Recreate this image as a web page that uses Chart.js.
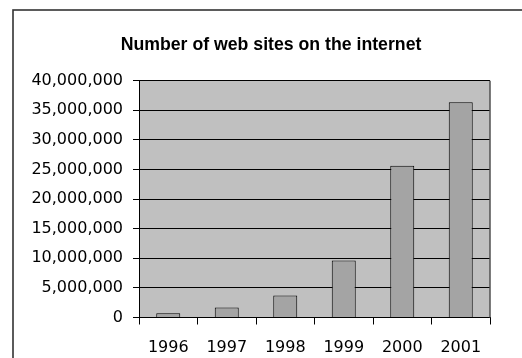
<!DOCTYPE html>
<html>
<head>
<meta charset="utf-8">
<script src="https://cdn.jsdelivr.net/npm/chart.js@4.4.1/dist/chart.umd.min.js"></script>
<style>
html,body{margin:0;padding:0;background:#fff;}
#wrap{position:relative;width:522px;height:358px;}
</style>
</head>
<body>
<div id="wrap"><canvas id="c" width="522" height="358"></canvas></div>
<script>
const years = ["1996","1997","1998","1999","2000","2001"];
const sites = [700000, 1700000, 3700000, 9650000, 25650000, 36350000];
const yMax = 40000000;
const yStep = 5000000;
const chartTitle = "Number of web sites on the internet";

const bgPlugin = {
  id: 'bg',
  afterLayout(chart) {
    // centre the title over the framed chart region (as in the reference)
    if (chart.titleBlock) {
      chart.titleBlock.left = 52;
      chart.titleBlock.right = 490;
    }
  },
  beforeDraw(chart) {
    const {ctx, chartArea: a} = chart;
    ctx.save();
    ctx.fillStyle = '#fff';
    ctx.fillRect(0, 0, chart.width, chart.height);
    ctx.strokeStyle = '#333';
    ctx.lineWidth = 1.6;
    ctx.strokeRect(13, 10, 700, 500);
    ctx.fillStyle = '#c0c0c0';
    ctx.fillRect(a.left, a.top, a.right - a.left, a.bottom - a.top);
    ctx.restore();
  },
  afterDraw(chart) {
    const {ctx, chartArea: a} = chart;
    ctx.save();
    ctx.strokeStyle = '#505050';
    ctx.lineWidth = 1.5;
    ctx.beginPath();
    ctx.moveTo(Math.round(a.right), a.top);
    ctx.lineTo(Math.round(a.right), a.bottom);
    ctx.stroke();
    ctx.restore();
  }
};

new Chart(document.getElementById('c'), {
  type: 'bar',
  data: {
    labels: years,
    datasets: [{
      data: sites,
      backgroundColor: '#a4a4a4',
      borderColor: '#000',
      borderWidth: 1,
      barPercentage: 0.41,
      categoryPercentage: 1
    }]
  },
  options: {
    responsive: false,
    animation: false,
    devicePixelRatio: 1,
    layout: { padding: { left: 0, right: 32, top: 0, bottom: 0 } },
    plugins: {
      legend: { display: false },
      tooltip: { enabled: false },
      title: {
        display: true,
        text: chartTitle,
        color: '#000',
        font: { family: 'Liberation Sans, Arial, sans-serif', size: 17.7, weight: 'bold' },
        padding: { top: 34.4, bottom: 25.1 }
      }
    },
    scales: {
      x: {
        offset: true,
        grid: { offset: true, drawOnChartArea: false, color: '#000', tickLength: 7, tickColor: '#000' },
        border: { color: '#000', width: 1 },
        ticks: { color: '#000', padding: 14, font: { family: 'DejaVu Sans, sans-serif', size: 16 } },
        afterFit(s) { s.height = 40.5; }
      },
      y: {
        min: 0,
        max: yMax,
        ticks: {
          stepSize: yStep,
          color: '#000',
          padding: 10,
          font: { family: 'DejaVu Sans, sans-serif', size: 16 },
          callback: v => v.toLocaleString('en-US')
        },
        grid: { color: '#000', tickLength: 6, tickColor: '#000' },
        border: { color: '#000', width: 1 },
        afterFit(s) { s.width = 139; }
      }
    }
  },
  plugins: [bgPlugin]
});
</script>
</body>
</html>
